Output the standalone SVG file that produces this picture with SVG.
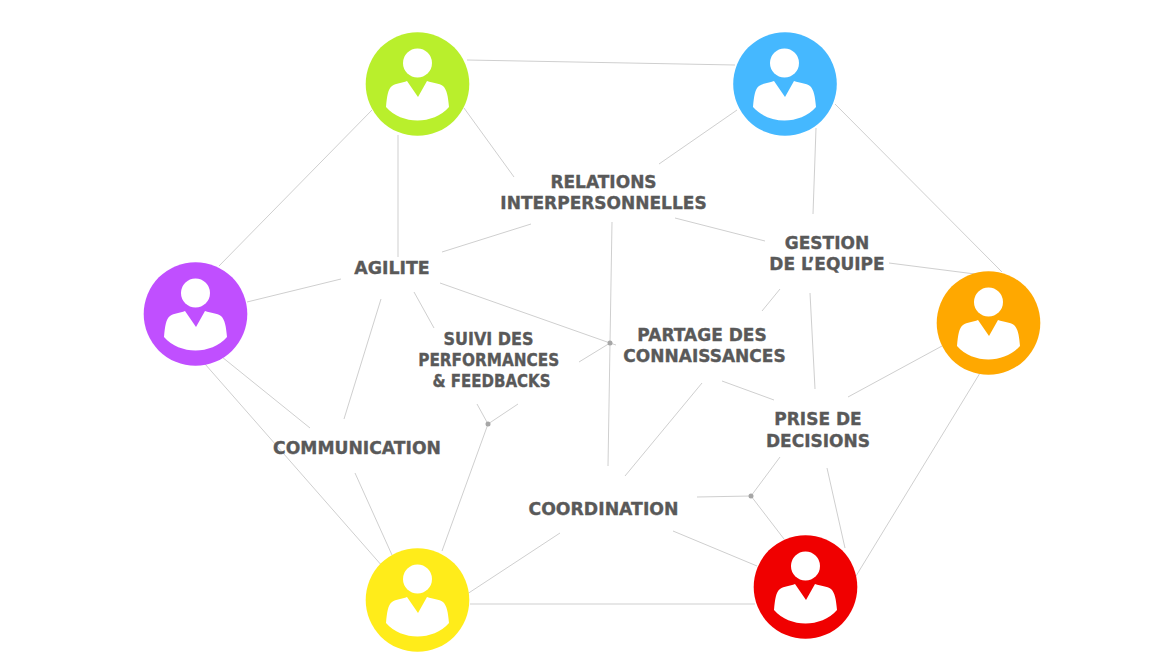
<svg xmlns="http://www.w3.org/2000/svg" width="1170" height="659" viewBox="0 0 1170 659">
<style>
text{font-family:"DejaVu Sans",Verdana,sans-serif;font-weight:700;font-size:17px;fill:#595959;stroke:#595959;stroke-width:.35;text-anchor:middle}
#connectors line{stroke:#cfcfcf;stroke-width:1}
.j{fill:#a6a6a6}
.w{fill:#fff}
</style>
<defs>
<g id="person">
<circle class="w" cx="-.5" cy="-21" r="14.5"/>
<path class="w" d="M-32 23 C-31 12 -30 5 -26 2 C-22 -1 -16 -1 -11 -3 L0 13 L9 -3 C15 -1 21 -1 25 2 C29 6 30 12 31 23 C15 41 -16 41 -32 23Z"/>
</g>
</defs>
<rect width="1170" height="659" fill="#fff"/>
<g id="connectors">
<line x1="467" y1="60" x2="735" y2="65"/>
<line x1="464" y1="108" x2="514" y2="177"/>
<line x1="737" y1="110" x2="659" y2="164"/>
<line x1="398" y1="135" x2="398" y2="257"/>
<line x1="372" y1="110" x2="219" y2="266"/>
<line x1="816" y1="128" x2="813" y2="214"/>
<line x1="835" y1="104" x2="1002" y2="272"/>
<line x1="531" y1="224" x2="442" y2="252"/>
<line x1="675" y1="218" x2="765" y2="241"/>
<line x1="612" y1="222" x2="608" y2="466"/>
<line x1="889" y1="263" x2="975" y2="274"/>
<line x1="780" y1="289" x2="762" y2="311"/>
<line x1="810" y1="293" x2="815" y2="389"/>
<line x1="341" y1="279" x2="247" y2="302"/>
<line x1="381" y1="299" x2="344" y2="419"/>
<line x1="414" y1="292" x2="434" y2="328"/>
<line x1="440" y1="283" x2="610" y2="343"/>
<line x1="610" y1="343" x2="579" y2="362"/>
<line x1="610" y1="343" x2="616" y2="345"/>
<line x1="477" y1="404" x2="488" y2="424"/>
<line x1="518" y1="404" x2="488" y2="424"/>
<line x1="488" y1="424" x2="442" y2="551"/>
<line x1="722" y1="381" x2="774" y2="400"/>
<line x1="702" y1="383" x2="625" y2="476"/>
<line x1="848" y1="397" x2="942" y2="346"/>
<line x1="980" y1="373" x2="856" y2="576"/>
<line x1="780" y1="457" x2="751" y2="496"/>
<line x1="697" y1="497" x2="751" y2="496"/>
<line x1="751" y1="496" x2="784" y2="539"/>
<line x1="827" y1="468" x2="845" y2="548"/>
<line x1="673" y1="531" x2="757" y2="566"/>
<line x1="560" y1="533" x2="458" y2="600"/>
<line x1="470" y1="604" x2="755" y2="604"/>
<line x1="205" y1="364" x2="383" y2="567"/>
<line x1="222" y1="357" x2="310" y2="428"/>
<line x1="355" y1="473" x2="392" y2="555"/>
<circle class="j" cx="610" cy="343" r="2.5"/>
<circle class="j" cx="488" cy="424" r="2.5"/>
<circle class="j" cx="751" cy="496" r="2.5"/>
</g>
<g id="node-green"><circle cx="417.5" cy="84" r="51.8" fill="#b9ef2c"/><use href="#person" x="418" y="84"/></g>
<g id="node-blue"><circle cx="785" cy="84" r="51.8" fill="#45b8ff"/><use href="#person" x="785" y="84"/></g>
<g id="node-purple"><circle cx="195.5" cy="314" r="51.8" fill="#c04fff"/><use href="#person" x="196" y="314"/></g>
<g id="node-orange"><circle cx="988.5" cy="323" r="51.8" fill="#ffa800"/><use href="#person" x="989" y="323"/></g>
<g id="node-yellow"><circle cx="417.5" cy="600" r="51.8" fill="#ffec1a"/><use href="#person" x="418" y="600"/></g>
<g id="node-red"><circle cx="805.5" cy="587" r="51.8" fill="#f00000"/><use href="#person" x="806" y="587"/></g>
<g id="label-relations"><text x="603.5" y="188">RELATIONS</text><text x="603.5" y="209">INTERPERSONNELLES</text></g>
<g id="label-gestion"><text x="827" y="249">GESTION</text><text x="827" y="270">DE L’EQUIPE</text></g>
<g id="label-agilite"><text x="392" y="274" style="font-size:17.4px">AGILITE</text></g>
<g id="label-suivi"><text x="488.5" y="345" textLength="90" lengthAdjust="spacingAndGlyphs">SUIVI DES</text><text x="488.7" y="366" textLength="141" lengthAdjust="spacingAndGlyphs">PERFORMANCES</text><text x="491.5" y="387" textLength="118" lengthAdjust="spacingAndGlyphs">&amp; FEEDBACKS</text></g>
<g id="label-partage"><text x="702" y="341">PARTAGE DES</text><text x="704.5" y="362">CONNAISSANCES</text></g>
<g id="label-prise"><text x="818" y="425">PRISE DE</text><text x="818" y="447">DECISIONS</text></g>
<g id="label-communication"><text x="357" y="454" style="font-size:17.2px">COMMUNICATION</text></g>
<g id="label-coordination"><text x="603.5" y="515" style="font-size:17.3px">COORDINATION</text></g>
</svg>
